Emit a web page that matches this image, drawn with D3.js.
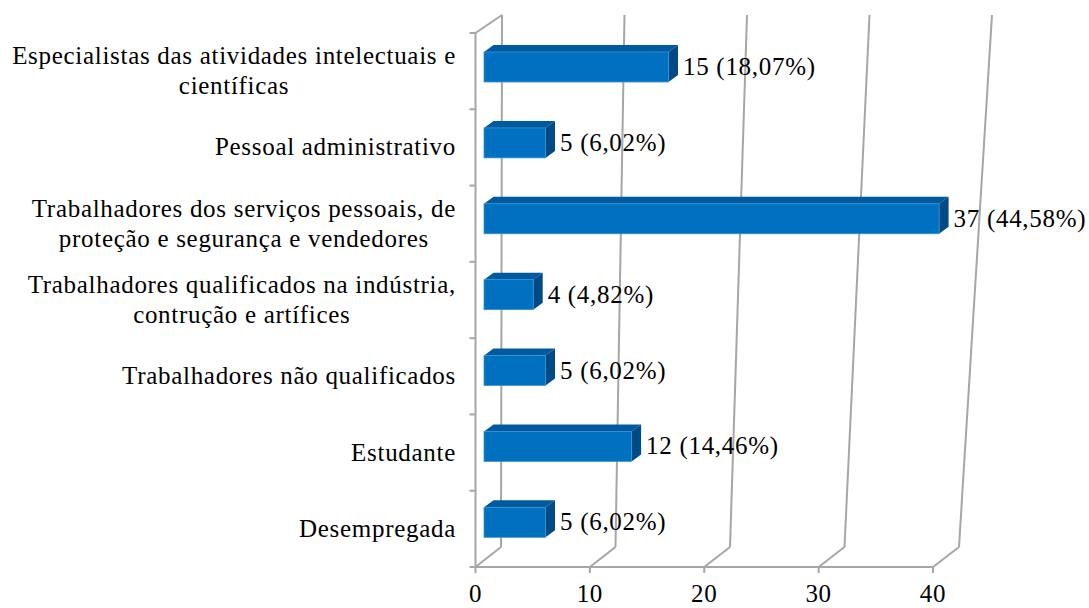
<!DOCTYPE html>
<html>
<head>
<meta charset="utf-8">
<script src="https://cdn.jsdelivr.net/npm/d3@7"></script>
<style>
 body{margin:0;background:#fff}
</style>
</head>
<body>
<div id="chart"></div>
<script>
// categories (top to bottom), counts and percent labels
const categories = [
  ["Especialistas das atividades intelectuais e","científicas"],
  ["Pessoal administrativo"],
  ["Trabalhadores dos serviços pessoais, de","proteção e segurança e vendedores"],
  ["Trabalhadores qualificados na indústria,","contrução e artífices"],
  ["Trabalhadores não qualificados"],
  ["Estudante"],
  ["Desempregada"]
]
const counts = [15,5,37,4,5,12,5]
const percents = ["18,07%","6,02%","44,58%","4,82%","6,02%","14,46%","6,02%"]
const ticks = [0,10,20,30,40]

const W = 1089, H = 608
const svg = d3.select("#chart").append("svg").attr("width",W).attr("height",H)
  .attr("font-family","'Liberation Serif','DejaVu Serif','Times New Roman',serif")

const fontSize = 25, spacing = "0.7px"
const floorY = 567, backFloorY = 547, topY = 15, wallTopY = 33

// perspective: three scales for the gridlines (front floor, back bottom, back top)
const xFront = d3.scaleLinear().domain([0,40]).range([475.5,933])
const xBackBottom = d3.scaleLinear().domain([0,40]).range([501,959])
const xBackTop = d3.scaleLinear().domain([0,40]).range([502,992])
// bars sit in the middle of the depth
const xBar = d3.scaleLinear().domain([0,40]).range([484,484+40*12.3])

const ids = categories.map((c,i)=>i)
const yBand = d3.scaleBand().domain(ids).range([wallTopY,floorY])

const grid = "#a6a6a6"
let g = svg.append("g")

// back wall lines + floor diagonals
ticks.forEach(t=>{
  g.append("line").attr("x1",xBackTop(t)).attr("y1",topY).attr("x2",xBackBottom(t)).attr("y2",backFloorY)
   .attr("stroke",grid).attr("stroke-width",2)
  g.append("line").attr("x1",xBackBottom(t)).attr("y1",backFloorY).attr("x2",xFront(t)).attr("y2",floorY)
   .attr("stroke",grid).attr("stroke-width",2)
})
// left wall
g.append("line").attr("x1",xFront(0)).attr("y1",wallTopY).attr("x2",xFront(0)).attr("y2",floorY)
 .attr("stroke",grid).attr("stroke-width",2)
g.append("line").attr("x1",xFront(0)).attr("y1",wallTopY).attr("x2",xBackTop(0)).attr("y2",topY)
 .attr("stroke",grid).attr("stroke-width",2)
// front floor line
g.append("line").attr("x1",xFront(0)-1).attr("y1",floorY).attr("x2",xFront(40)).attr("y2",floorY)
 .attr("stroke",grid).attr("stroke-width",2)
// x ticks and labels
ticks.forEach(t=>{
  g.append("line").attr("x1",xFront(t)).attr("y1",floorY).attr("x2",xFront(t)).attr("y2",floorY+6)
   .attr("stroke",grid).attr("stroke-width",2)
  g.append("text").attr("x",xFront(t)).attr("y",602).attr("text-anchor","middle")
   .style("font-size",fontSize+"px").style("letter-spacing",spacing).text(t)
})
// category ticks
d3.range(categories.length+1).forEach(i=>{
  let y = wallTopY + i*yBand.step()
  g.append("line").attr("x1",xFront(0)-6).attr("y1",y).attr("x2",xFront(0)).attr("y2",y)
   .attr("stroke",grid).attr("stroke-width",2)
})

// bars
const bh = 30, dx = 9.5, dy = 7
ids.forEach(i=>{
  let y0 = yBand(i) + 19 - i*0.4
  let x0 = xBar(0), x1 = xBar(counts[i])
  let bar = g.append("g")
  bar.append("polygon").attr("points",[[x0,y0],[x0+dx,y0-dy],[x1+dx,y0-dy],[x1,y0]].join(" "))
   .attr("fill","#005a9f")
  bar.append("polygon").attr("points",[[x1,y0],[x1+dx,y0-dy],[x1+dx,y0+bh-dy],[x1,y0+bh]].join(" "))
   .attr("fill","#004a86")
  bar.append("rect").attr("x",x0).attr("y",y0).attr("width",x1-x0).attr("height",bh)
   .attr("fill","#0070c0").attr("stroke","#3d8fd0").attr("stroke-width",0.8)
  g.append("text").attr("x",x1+dx+5).attr("y",y0+bh/2+8)
   .style("font-size",fontSize+"px").style("letter-spacing",spacing)
   .text(counts[i]+" ("+percents[i]+")")
})

// category labels: centred lines, block right-aligned
ids.forEach(i=>{
  let lines = categories[i]
  let cy = yBand(i) + yBand.bandwidth()/2
  let lh = 30
  let t = g.append("text").style("font-size",fontSize+"px").style("letter-spacing",spacing)
    .attr("text-anchor","middle")
  lines.forEach((l,k)=>{
    t.append("tspan").attr("y",cy + 8 + (k-(lines.length-1)/2)*lh).text(l)
  })
  let maxW = d3.max(t.selectAll("tspan").nodes(), n=>n.getComputedTextLength())
  t.selectAll("tspan").attr("x",456-maxW/2)
})
</script>
</body>
</html>
